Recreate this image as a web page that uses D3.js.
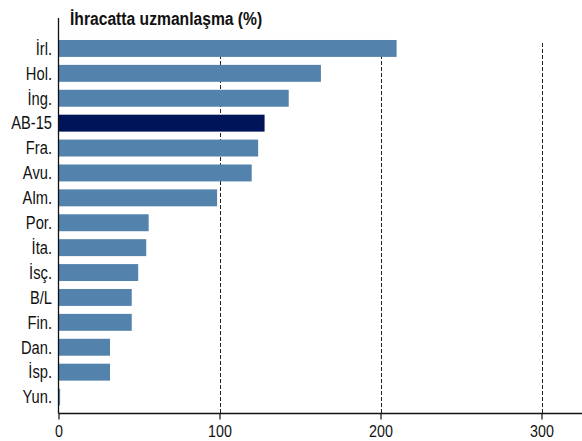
<!DOCTYPE html>
<html>
<head>
  <meta charset="UTF-8" />
  <title>İhracatta uzmanlaşma</title>
  <script src="https://d3js.org/d3.v7.min.js"></script>
  <style>
    body { margin: 0; background: #fff; }
    text { font-family: "Liberation Sans", Arial, sans-serif; fill: #111; }
  </style>
</head>
<body>
  <div id="chart"></div>
  <script>
    // data
    const countries = ["İrl.", "Hol.", "İng.", "AB-15", "Fra.", "Avu.", "Alm.", "Por.", "İta.", "İsç.", "B/L", "Fin.", "Dan.", "İsp.", "Yun."];
    const values = [210, 163, 143, 128, 124, 120, 98.5, 56, 54.5, 49.5, 45.5, 45.5, 32, 32, 1];
    const highlight = ["AB-15"];
    const xTicks = [0, 100, 200, 300];
    const title = "İhracatta uzmanlaşma (%)";

    const data = countries.map((c, i) => ({ country: c, value: values[i] }));

    const width = 582, height = 441;
    const narrow = 0.84; // the original font is a condensed one
    const titleNarrow = 0.87;

    const svg = d3.select("#chart")
      .append("svg")
      .attr("width", width)
      .attr("height", height);

    const xScale = d3.scaleLinear()
      .domain([0, 300])
      .range([58.5, 541.5]);

    const yScale = d3.scaleBand()
      .domain(countries)
      .range([36, 409.5])
      .paddingInner(0.32)
      .paddingOuter(0.16);

    const axisY = 413.5;

    // dashed grid lines
    svg.append("g")
      .selectAll("line")
      .data(xTicks.filter(d => d > 0))
      .enter()
      .append("line")
      .attr("x1", d => Math.round(xScale(d)) + 0.5)
      .attr("x2", d => Math.round(xScale(d)) + 0.5)
      .attr("y1", 43)
      .attr("y2", axisY)
      .attr("stroke", "#222")
      .attr("stroke-width", 1)
      .attr("stroke-dasharray", "4,2");

    // bars
    svg.append("g")
      .selectAll("rect")
      .data(data)
      .enter()
      .append("rect")
      .attr("x", xScale(0))
      .attr("y", d => yScale(d.country))
      .attr("width", d => xScale(d.value) - xScale(0))
      .attr("height", yScale.bandwidth())
      .attr("fill", d => highlight.includes(d.country) ? "#00145a" : "#5383ad");

    // x axis
    const xAxis = d3.axisBottom(xScale)
      .tickValues(xTicks)
      .tickSize(6)
      .tickPadding(3)
      .tickFormat(d3.format("d"));

    const gx = svg.append("g")
      .attr("transform", "translate(0," + axisY + ")")
      .call(xAxis);
    gx.select(".domain").remove();
    gx.append("line")
      .attr("x1", xScale(0))
      .attr("x2", width)
      .attr("stroke", "#111")
      .attr("stroke-width", 1.3);
    gx.selectAll(".tick line").attr("stroke", "#111").attr("stroke-width", 1.2);
    gx.selectAll(".tick text")
      .attr("font-size", "17px")
      .attr("fill", "#111")
      .attr("y", 11)
      .attr("transform", "scale(" + narrow + ",1)")
      .style("font-family", "'Liberation Sans', Arial, sans-serif");

    // y axis line
    svg.append("line")
      .attr("x1", xScale(0))
      .attr("x2", xScale(0))
      .attr("y1", 18)
      .attr("y2", axisY)
      .attr("stroke", "#111")
      .attr("stroke-width", 1.3);

    // category labels
    svg.append("g")
      .selectAll("text")
      .data(countries)
      .enter()
      .append("text")
      .attr("x", 52 / narrow)
      .attr("y", d => yScale(d) + yScale.bandwidth() / 2)
      .attr("dy", "0.36em")
      .attr("text-anchor", "end")
      .attr("font-size", "17.5px")
      .attr("transform", "scale(" + narrow + ",1)")
      .text(d => d);

    // title
    svg.append("text")
      .attr("x", 70 / titleNarrow)
      .attr("y", 25)
      .attr("font-size", "18px")
      .attr("font-weight", "bold")
      .attr("transform", "scale(" + titleNarrow + ",1)")
      .text(title);
  </script>
</body>
</html>
